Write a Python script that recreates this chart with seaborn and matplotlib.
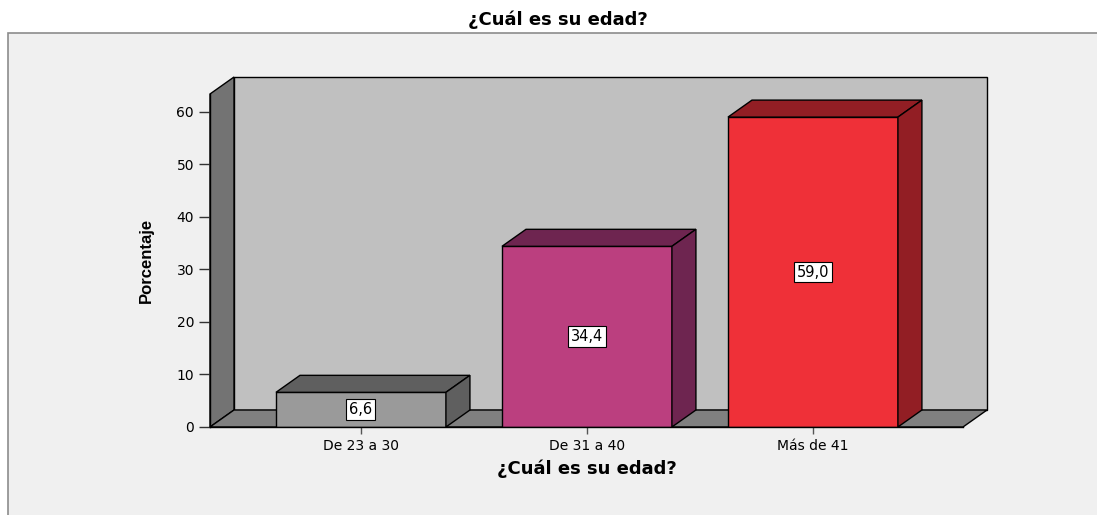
import matplotlib.pyplot as plt
import matplotlib.patches as mpatches
import seaborn as sns

# data
categorias = ["De 23 a 30", "De 31 a 40", "Más de 41"]
porcentajes = [6.6, 34.4, 59.0]
y_ticks = [0, 10, 20, 30, 40, 50, 60]

# face colours: front, then top/side shade
frente = ["#9a9a9a", "#bb3f7f", "#ef3038"]
lado = ["#5f5f5f", "#6e2550", "#921e24"]

sns.set_style("white")
# the source image is stretched sideways, so a wide face fits the horizontal text
plt.rcParams['font.family'] = ['DejaVu Sans']

W, H = 1097, 515
fig = plt.figure(figsize=(W / 100, H / 100), dpi=100)
fig.patch.set_facecolor("white")

# outer grey frame
fig.patches.append(mpatches.Rectangle(
    (8 / W, -0.05), 1.05, 1.05 - 33 / H, transform=fig.transFigure,
    facecolor="#f0f0f0", edgecolor="#8c8c8c", linewidth=1.2, zorder=-5))

ax = fig.add_axes([210 / W, (H - 427) / H, 753 / W, 333 / H])
ax.patch.set_visible(False)

sns.barplot(x=categorias, y=porcentajes, hue=categorias, palette=frente,
            legend=False, width=0.752, saturation=1, edgecolor="black",
            linewidth=1, ax=ax, zorder=2)
bars = list(ax.patches)

xmin, xmax = -0.668, 2.664
ymin, ymax = 0, 63.4
ax.set_xlim(xmin, xmax)
ax.set_ylim(ymin, ymax)

# depth offset in data units (about 24 px right, 17 px up)
dx = 24 / 753 * (xmax - xmin)
dy = 17 / 333 * (ymax - ymin)

def poly(pts, color, z):
    ax.add_patch(mpatches.Polygon(pts, closed=True, facecolor=color,
                                  edgecolor="black", linewidth=1,
                                  zorder=z, clip_on=False))

# back wall, left wall, floor
poly([(xmin + dx, dy), (xmax + dx, dy), (xmax + dx, ymax + dy),
      (xmin + dx, ymax + dy)], "#c0c0c0", 0.2)
poly([(xmin, 0), (xmin + dx, dy), (xmin + dx, ymax + dy), (xmin, ymax)],
     "#737373", 0.3)
poly([(xmin, 0), (xmax, 0), (xmax + dx, dy), (xmin + dx, dy)],
     "#808080", 0.3)

# 3d top and side of each bar
for b, c, v in zip(bars, lado, porcentajes):
    x0 = b.get_x()
    x1 = x0 + b.get_width()
    h = b.get_height()
    poly([(x0, h), (x1, h), (x1 + dx, h + dy), (x0 + dx, h + dy)], c, 3)
    poly([(x1, 0), (x1 + dx, dy), (x1 + dx, h + dy), (x1, h)], c, 3)
    ax.text(x0 + b.get_width() / 2, h / 2, f"{v:.1f}".replace(".", ","),
            ha="center", va="center", fontsize=10.5, color="black", zorder=5,
            bbox=dict(boxstyle="square,pad=0.2", facecolor="white",
                      edgecolor="black", linewidth=0.8))

ax.set_yticks(y_ticks)
ax.tick_params(axis="y", direction="out", length=8, width=1, colors="#333333",
               labelsize=10, labelcolor="black", left=True)
ax.tick_params(axis="x", direction="out", length=5, width=1, colors="#555555",
               labelsize=10, labelcolor="black", bottom=True)
for s in ["top", "right"]:
    ax.spines[s].set_visible(False)
for s in ["left", "bottom"]:
    ax.spines[s].set_color("black")
    ax.spines[s].set_linewidth(1)
    ax.spines[s].set_zorder(4)

ax.set_ylabel("Porcentaje", fontsize=12, fontweight="bold", color="black",
              family=["Liberation Sans", "DejaVu Sans"])
ax.yaxis.set_label_coords(-0.074, 0.5)
ax.set_xlabel("¿Cuál es su edad?", fontsize=13, fontweight="bold",
              color="black")
ax.xaxis.set_label_coords(0.5, -0.099)

fig.text(558 / W, 1 - 20 / H, "¿Cuál es su edad?", ha="center", va="center",
         fontsize=13, fontweight="bold", color="black")

fig.savefig("out.png", dpi=100)
